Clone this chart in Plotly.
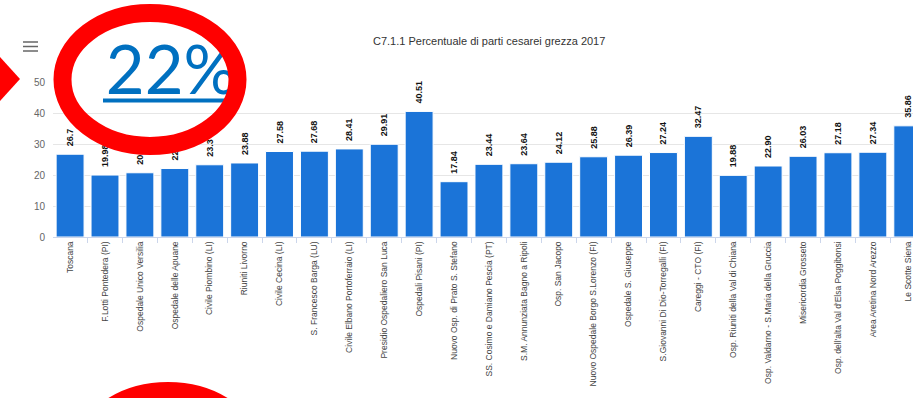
import plotly.graph_objects as go

categories = [
    "Toscana", "F.Lotti Pontedera (PI)", "Ospedale Unico Versilia", "Ospedale delle Apuane",
    "Civile Piombino (LI)", "Riuniti Livorno", "Civile Cecina (LI)", "S. Francesco Barga (LU)",
    "Civile Elbano Portoferraio (LI)", "Presidio Ospedaliero San Luca", "Ospedali Pisani (PI)",
    "Nuovo Osp. di Prato S. Stefano", "SS. Cosimo e Damiano Pescia (PT)",
    "S.M. Annunziata Bagno a Ripoli", "Osp. San Jacopo", "Nuovo Ospedale Borgo S.Lorenzo (FI)",
    "Ospedale S. Giuseppe", "S.Giovanni Di Dio-Torregalli (FI)", "Careggi - CTO (FI)",
    "Osp. Riuniti della Val di Chiana", "Osp. Valdarno - S.Maria della Gruccia",
    "Misericordia Grosseto", "Osp. dell'alta Val d'Elsa Poggibonsi", "Area Aretina Nord Arezzo",
    "Le Scotte Siena",
]
values = [26.7, 19.98, 20.72, 22.09, 23.3, 23.88, 27.58, 27.68, 28.41, 29.91, 40.51, 17.84,
          23.44, 23.64, 24.12, 25.88, 26.39, 27.24, 32.47, 19.88, 22.90, 26.03, 27.18, 27.34, 35.86]
value_labels = ["26.7", "19.98", "20.72", "22.09", "23.3", "23.88", "27.58", "27.68", "28.41",
                "29.91", "40.51", "17.84", "23.44", "23.64", "24.12", "25.88", "26.39", "27.24",
                "32.47", "19.88", "22.90", "26.03", "27.18", "27.34", "35.86"]
y_ticks = [0, 10, 20, 30, 40, 50]
title_text = "C7.1.1 Percentuale di parti cesarei grezza 2017"
callout_text = "22%"

W, H = 921, 398
L, R, T, B = 53, 8, 82, 161
PW, PH = W - L - R, H - T - B


def fx(p):
    return (p - L) / PW


def fy(p):
    return (H - B - p) / PH


fig = go.Figure(go.Bar(
    x=categories, y=values, text=["\u00a0\u00a0" + s for s in value_labels],
    textposition="outside", textangle=-90, constraintext="none",
    textfont=dict(family="Liberation Sans", size=9, color="#111111", weight="bold"),
    marker=dict(color="#1b74d8", line=dict(color="#ffffff", width=1)),
    cliponaxis=False,
))

shapes = []
for yy in (42, 46.5, 51):
    shapes.append(dict(type="line", xref="paper", yref="paper",
                       x0=fx(23), x1=fx(38), y0=fy(yy), y1=fy(yy),
                       line=dict(color="#666666", width=1.5), layer="above"))
shapes.append(dict(type="path", xref="paper", yref="paper",
                   path=f"M {fx(-10)},{fy(46)} L {fx(20)},{fy(79)} L {fx(-10)},{fy(112)} Z",
                   fillcolor="#ff0000", line=dict(width=0), layer="above"))
shapes.append(dict(type="rect", xref="paper", yref="paper",
                   x0=fx(100), x1=fx(243), y0=fy(97), y1=fy(37),
                   line=dict(width=0), fillcolor="rgba(0,0,0,0)", layer="above",
                   label=dict(text=callout_text, textposition="middle center",
                              font=dict(family="Lato", size=67, color="#0070c0"))))
shapes.append(dict(type="line", xref="paper", yref="paper",
                   x0=fx(103), x1=fx(236), y0=fy(100.5), y1=fy(100.5),
                   line=dict(color="#0070c0", width=4), layer="above"))
shapes.append(dict(type="circle", xref="paper", yref="paper",
                   x0=fx(62.5), x1=fx(237.5), y0=fy(146), y1=fy(13),
                   line=dict(color="#ff0000", width=18), layer="above"))
shapes.append(dict(type="circle", xref="paper", yref="paper",
                   x0=fx(80.5), x1=fx(255.5), y0=fy(524), y1=fy(391),
                   line=dict(color="#ff0000", width=18), layer="above"))

fig.update_layout(
    width=W, height=H,
    margin=dict(l=L, r=R, t=T, b=B, pad=0),
    paper_bgcolor="#ffffff", plot_bgcolor="#ffffff",
    showlegend=False, bargap=0.2,
    font=dict(family="Liberation Sans", color="#444444"),
    xaxis=dict(range=[-0.49, 24.15], tickangle=-90, tickson="boundaries",
               ticks="outside", ticklen=5, tickcolor="#ccd6eb",
               showline=True, linecolor="#ccd6eb", linewidth=1,
               tickfont=dict(size=8.5, color="#444444"), showgrid=False,
               fixedrange=True),
    yaxis=dict(range=[0, 50], tickvals=y_ticks, showgrid=True, gridcolor="#e6e6e6",
               zeroline=False, showline=False, ticks="", ticklabelstandoff=7,
               tickfont=dict(size=10, color="#666666"), fixedrange=True),
    shapes=shapes,
    annotations=[dict(text=title_text, xref="paper", yref="paper", x=fx(489), y=fy(41),
                      xanchor="center", yanchor="middle", showarrow=False,
                      font=dict(family="Liberation Sans", size=11, color="#333333"))],
)

fig.write_html("out.html", config={"displayModeBar": False})
